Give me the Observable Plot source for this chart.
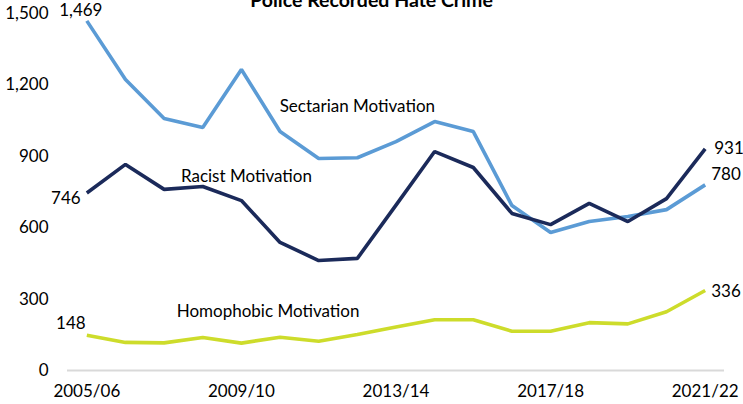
<!DOCTYPE html>
<html>
<head>
<meta charset="utf-8">
<script src="https://cdn.jsdelivr.net/npm/d3@7"></script>
<script src="https://cdn.jsdelivr.net/npm/@observablehq/plot@0.6"></script>
<style>
  html, body { margin: 0; padding: 0; background: #fff; }
  #wrap { position: relative; width: 743px; height: 404px; overflow: hidden; font-family: Lato, "Open Sans", sans-serif; }
  #title { position: absolute; left: 0; width: 743px; top: -12px; text-align: center; font-weight: bold; font-size: 19.5px; color: #000; }
  #chart { position: absolute; left: 0; top: 0; }
</style>
</head>
<body>
<div id="wrap">
  <div id="chart"></div>
  <div id="title">Police Recorded Hate Crime</div>
</div>
<script>
const years = ["2005/06","2006/07","2007/08","2008/09","2009/10","2010/11","2011/12","2012/13","2013/14","2014/15","2015/16","2016/17","2017/18","2018/19","2019/20","2020/21","2021/22"];
const sectarian = [1469,1223,1059,1021,1265,1004,891,894,962,1046,1004,693,580,626,647,676,780];
const racist = [746,866,761,773,714,538,462,471,695,920,853,660,613,702,626,722,931];
const homophobic = [148,118,116,139,115,140,123,151,183,213,213,165,165,201,196,247,336];
const seriesNames = ["Sectarian Motivation","Racist Motivation","Homophobic Motivation"];
const seriesColors = ["#5b9bd5","#1b2a5a","#cddc2b"];
const yTicks = [0,300,600,900,1200,1500];
const xTickYears = ["2005/06","2009/10","2013/14","2017/18","2021/22"];

const seriesValues = [sectarian, racist, homophobic];
const rows = [];
seriesValues.forEach((vals, s) => vals.forEach((v, i) => rows.push({series: seriesNames[s], i, value: v})));

const fmt = d3.format(",");
const n = years.length;
const FS = 17;

const firstLabels = seriesNames.map((s, k) => ({series: s, i: 0, value: seriesValues[k][0]}));
const lastLabels = seriesNames.map((s, k) => ({series: s, i: n - 1, value: seriesValues[k][n - 1]}));
const nameLabels = [
  {text: seriesNames[0], i: 7, value: sectarian[7], dx: 0, dy: -51},
  {text: seriesNames[1], i: 4, value: racist[4], dx: 5, dy: -24},
  {text: seriesNames[2], i: 5, value: homophobic[5], dx: -12, dy: -26}
];
const firstOffsets = [[-6,-10],[-21,6],[-16,-12]];
const lastOffsets = [[6,-10],[9,0],[6,1]];

const chart = Plot.plot({
  width: 743,
  height: 404,
  marginLeft: 67,
  marginRight: 19,
  marginTop: 13,
  marginBottom: 34,
  style: {fontFamily: "Lato, 'Open Sans', sans-serif", fontSize: FS + "px", color: "#000", background: "#fff"},
  x: {type: "linear", domain: [-0.5, n - 0.5], axis: null},
  y: {domain: [0, 1500], axis: null},
  color: {domain: seriesNames, range: seriesColors},
  marks: [
    Plot.ruleY([0], {stroke: "#d9d9d9", strokeWidth: 2}),
    Plot.axisY(yTicks, {tickSize: 0, tickPadding: 0, dx: -19, tickFormat: fmt, fontSize: FS, fill: "#000", label: null}),
    Plot.axisX(xTickYears.map(y => years.indexOf(y)), {tickSize: 0, tickPadding: 0, dy: 14, tickFormat: i => years[i], fontSize: FS, fill: "#000", label: null}),
    Plot.line(rows, {x: "i", y: "value", z: "series", stroke: "series", strokeWidth: 3.6, strokeLinejoin: "miter", strokeLinecap: "butt"}),
    ...firstLabels.map((d, k) => Plot.text([d], {x: "i", y: "value", text: d => fmt(d.value), dx: firstOffsets[k][0], dy: firstOffsets[k][1], fontSize: FS, fill: "#000"})),
    ...lastLabels.map((d, k) => Plot.text([d], {x: "i", y: "value", text: d => fmt(d.value), dx: lastOffsets[k][0], dy: lastOffsets[k][1], textAnchor: "start", fontSize: FS, fill: "#000"})),
    ...nameLabels.map(d => Plot.text([d], {x: "i", y: "value", text: "text", dx: d.dx, dy: d.dy, fontSize: FS, fill: "#000"}))
  ]
});
document.getElementById("chart").appendChild(chart);
</script>
</body>
</html>
